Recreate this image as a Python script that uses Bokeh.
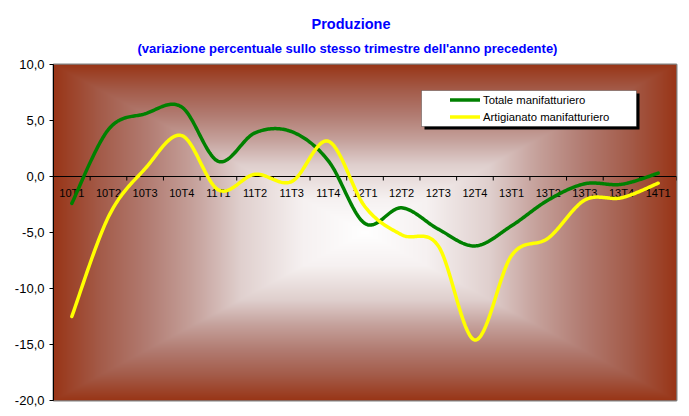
import numpy as np
from bokeh.plotting import figure
from bokeh.models import (Range1d, FixedTicker, Legend, LegendItem, BoxAnnotation,
                          Title, ColumnDataSource)
from bokeh.embed import file_html
from bokeh.resources import INLINE
from bokeh.core.properties import value

# ---------------- data ----------------
categories = ["10T1", "10T2", "10T3", "10T4", "11T1", "11T2", "11T3", "11T4",
              "12T1", "12T2", "12T3", "12T4", "13T1", "13T2", "13T3", "13T4", "14T1"]
totale = [-2.4, 4.2, 5.6, 6.2, 1.35, 3.9, 4.0, 1.4, -4.2, -2.8, -4.7, -6.2,
          -4.4, -2.1, -0.65, -0.7, 0.3]
artigianato = [-12.5, -3.6, 0.7, 3.65, -1.2, 0.2, -0.45, 3.15, -2.7, -5.2, -6.2,
               -14.6, -7.05, -5.5, -2.1, -1.9, -0.6]
series_names = ["Totale manifatturiero", "Artigianato manifatturiero"]
y_ticks = [-20, -15, -10, -5, 0, 5, 10]
y_tick_labels = ["-20,0", "-15,0", "-10,0", "-5,0", "0,0", "5,0", "10,0"]
title_text = "Produzione"
subtitle_text = "(variazione percentuale sullo stesso trimestre dell'anno precedente)"

FONT = "Liberation Sans"
FL, FT = 53, 64          # frame left / top (px)
FW, FH = 623, 336
Y0, Y1 = -20, 10
X0, X1 = -0.5, len(categories) - 0.5


def smooth(xs, ys, n=30):
    """Excel-like smoothed line (cubic Bezier, Catmull-Rom tangents)."""
    P = np.column_stack([xs, ys]).astype(float)
    Pp = np.vstack([P[0], P, P[-1]])
    t = np.linspace(0, 1, n, endpoint=False)[:, None]
    out = []
    for i in range(len(P) - 1):
        p0, p1, p2, p3 = Pp[i], Pp[i + 1], Pp[i + 2], Pp[i + 3]
        c1 = p1 + (p2 - p0) / 6.0
        c2 = p2 - (p3 - p1) / 6.0
        seg = ((1 - t) ** 3) * p1 + 3 * ((1 - t) ** 2) * t * c1 + 3 * (1 - t) * (t ** 2) * c2 + (t ** 3) * p2
        out.append(seg)
    out.append(P[-1:])
    r = np.vstack(out)
    return r[:, 0], r[:, 1]


p = figure(frame_width=FW, frame_height=FH,
           x_range=Range1d(X0, X1), y_range=Range1d(Y0, Y1),
           x_axis_location=None, output_backend="svg", toolbar_location=None,
           min_border_left=FL, min_border_right=689 - FL - FW, min_border_top=FT,
           min_border_bottom=416 - FT - FH, border_fill_color="white")

# ---------------- background gradient (rectangular, from centre) ----------------
gx = np.abs(np.linspace(-1, 1, FW))
gy = np.abs(np.linspace(-1, 1, FH))
tt = np.maximum(gx[None, :], gy[:, None])
stops_t = [0.0, 0.2, 0.4, 0.55, 0.7, 0.85, 1.0]
stops_rgb = np.array([(255, 255, 255), (246, 241, 241), (224, 208, 206), (198, 162, 156),
                      (178, 124, 114), (164, 92, 74), (153, 54, 24)], dtype=float)
img = np.empty((FH, FW), dtype=np.uint32)
view = img.view(dtype=np.uint8).reshape((FH, FW, 4))
for c in range(3):
    view[:, :, c] = np.interp(tt, stops_t, stops_rgb[:, c]).astype(np.uint8)
view[:, :, 3] = 255
p.image_rgba(image=[img], x=X0, y=Y0, dw=X1 - X0, dh=Y1 - Y0)

# ---------------- category axis at y = 0 ----------------
xs = np.arange(len(categories))
p.hspan(y=[0], line_color="black", line_width=1)
bounds = np.arange(len(categories) + 1) - 0.5
tick_len = 4 * (Y1 - Y0) / FH
p.segment(x0=bounds, y0=np.zeros_like(bounds), x1=bounds, y1=-tick_len * np.ones_like(bounds),
          line_color="black", line_width=1)
lab_src = ColumnDataSource(dict(x=xs, y=np.zeros(len(categories)), label=categories))
p.text(x="x", y="y", text="label", source=lab_src, text_align="center",
       text_baseline="middle", y_offset=16, text_font=value(FONT),
       text_font_size=value("11px"), text_color="black")

# ---------------- series ----------------
sx1, sy1 = smooth(xs, totale)
sx2, sy2 = smooth(xs, artigianato)
r1 = p.line(sx1, sy1, line_color="#008000", line_width=3.5, line_cap="round", line_join="round")
r2 = p.line(sx2, sy2, line_color="#FFFF00", line_width=3.5, line_cap="round", line_join="round")

# ---------------- axes / frame ----------------
p.grid.visible = False
p.yaxis.ticker = FixedTicker(ticks=y_ticks)
p.yaxis.major_label_overrides = {t: l for t, l in zip(y_ticks, y_tick_labels)}
p.yaxis.minor_tick_line_color = None
p.yaxis.major_tick_in = 0
p.yaxis.major_tick_out = 4
p.yaxis.axis_line_color = "black"
p.yaxis.major_tick_line_color = "black"
p.yaxis.major_label_text_font = FONT
p.yaxis.major_label_text_font_size = "13px"
p.yaxis.major_label_text_color = "black"
p.yaxis.major_label_standoff = 5
p.outline_line_color = "#808080"
p.outline_line_width = 2

# ---------------- titles ----------------
sub = Title(text=subtitle_text, align="left", offset=137 - FL, text_color="#0000FF",
            text_font=FONT, text_font_size="13px", text_font_style="bold",
            vertical_align="top", standoff=14)
main = Title(text=title_text, align="left", offset=311 - FL, text_color="#0000FF",
             text_font=FONT, text_font_size="14.5px", text_font_style="bold",
             vertical_align="top", standoff=0)
p.add_layout(sub, "above")
p.add_layout(main, "above")


# ---------------- legend ----------------
def dx(px):
    return X0 + (px - FL) / FW * (X1 - X0)


def dy(py):
    return Y1 - (py - FT) / FH * (Y1 - Y0)


shadow = BoxAnnotation(left=dx(424), right=dx(639), top=dy(93), bottom=dy(129),
                       fill_color="black", fill_alpha=1, line_color=None)
box = BoxAnnotation(left=dx(421), right=dx(636), top=dy(90), bottom=dy(126),
                    fill_color="white", fill_alpha=1, line_color="black", line_width=1)
p.add_layout(shadow)
p.add_layout(box)
legend = Legend(items=[LegendItem(label=series_names[0], renderers=[r1]),
                       LegendItem(label=series_names[1], renderers=[r2])],
                location=(450 - FL - 2, FH - (90 - FT) - 36), orientation="vertical",
                background_fill_alpha=0, border_line_alpha=0, padding=2, spacing=2, margin=0,
                glyph_width=30, glyph_height=15, label_height=15, label_standoff=3,
                label_text_font=FONT, label_text_font_size="11.3px", label_text_color="black")
p.add_layout(legend)

open("out.html", "w").write(file_html(p, INLINE))
